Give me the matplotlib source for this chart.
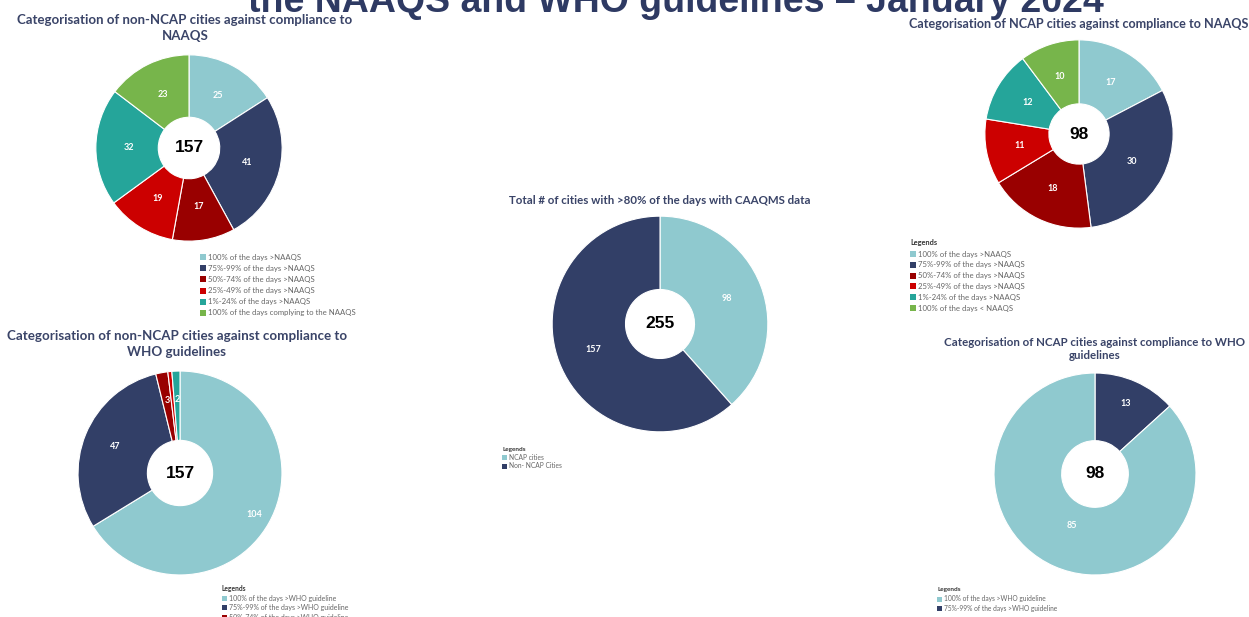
import matplotlib
matplotlib.use("Agg")
import matplotlib.pyplot as plt
from matplotlib.patches import Rectangle
import numpy as np

# --- data ---
naaqs_labels_non = ["100% of the days >NAAQS", "75%-99% of the days >NAAQS",
                    "50%-74% of the days >NAAQS", "25%-49% of the days >NAAQS",
                    "1%-24% of the days >NAAQS", "100% of the days complying to the NAAQS"]
naaqs_values_non = [25, 41, 17, 19, 32, 23]

naaqs_labels_ncap = ["100% of the days >NAAQS", "75%-99% of the days >NAAQS",
                     "50%-74% of the days >NAAQS", "25%-49% of the days >NAAQS",
                     "1%-24% of the days >NAAQS", "100% of the days < NAAQS"]
naaqs_values_ncap = [17, 30, 18, 11, 12, 10]

total_labels = ["NCAP cities", "Non- NCAP Cities"]
total_values = [98, 157]

who_labels_non = ["100% of the days >WHO guideline", "75%-99% of the days >WHO guideline",
                  "50%-74% of the days >WHO guideline"]
who_values_non = [104, 47, 3, 1, 2]

who_labels_ncap = ["100% of the days >WHO guideline", "75%-99% of the days >WHO guideline"]
# slice order as drawn clockwise from 12 o'clock: 75-99% first, then 100%
who_values_ncap = [13, 85]

# colours
LBLUE = "#8FC9CF"
NAVY = "#323F67"
DRED = "#990000"
RED = "#CC0000"
TEAL = "#25A59A"
GREEN = "#77B54B"
six_cols = [LBLUE, NAVY, DRED, RED, TEAL, GREEN]
who_cols = [LBLUE, NAVY, DRED, RED, TEAL]
TITLE_COL = "#3A4468"

W, H = 1249, 617
fig = plt.figure(figsize=(W / 100, H / 100), dpi=100)
fig.patch.set_facecolor("white")


def fx(x):
    return x / W


def fy(y):
    return 1 - y / H


def donut(cx, cy, r, values, colors, hole=0.33, lab_r=0.66, lab_size=6.5):
    ax = fig.add_axes([fx(cx - r), fy(cy + r), 2 * r / W, 2 * r / H])
    wedges, _ = ax.pie(values, colors=colors, startangle=90, counterclock=False,
                       radius=1, wedgeprops=dict(width=1 - hole, edgecolor="white", linewidth=0.8))
    if np.isscalar(lab_r):
        lab_r = [lab_r] * len(values)
    for w, v, lr in zip(wedges, values, lab_r):
        if v < 2:
            continue
        a = np.deg2rad((w.theta1 + w.theta2) / 2)
        ax.text(lr * np.cos(a), lr * np.sin(a), str(v), ha="center", va="center",
                color="white", fontsize=lab_size, fontweight="bold", family="Lato")
    ax.text(0, 0, str(sum(values)), ha="center", va="center", fontsize=12.5,
            fontweight="bold", family="Liberation Sans", color="black")
    ax.set_xlim(-1.02, 1.02)
    ax.set_ylim(-1.02, 1.02)
    ax.axis("off")
    return ax


def chart_title(x, y, s, size=8.2):
    fig.text(fx(x), fy(y), s, ha="center", va="center", fontsize=size, fontweight="bold",
             color=TITLE_COL, family="Lato", linespacing=1.3)


def legend(x, y0, dy, labels, colors, title_y=None, size=5.6, sq=6):
    if title_y is not None:
        fig.text(fx(x), fy(title_y), "Legends", ha="left", va="center", fontsize=size * 0.95,
                 fontweight="bold", color="#333333", family="Lato")
    for i, (lab, c) in enumerate(zip(labels, colors)):
        yc = y0 + i * dy
        fig.patches.append(Rectangle((fx(x), fy(yc + sq / 2)), sq / W, sq / H,
                                     transform=fig.transFigure, facecolor=c, edgecolor="none"))
        fig.text(fx(x + sq + 2), fy(yc), lab, ha="left", va="center", fontsize=size,
                 color="#666666", family="Lato")


# main slide title, cut off at the top
fig.text(fx(676), fy(12), "the NAAQS and WHO guidelines \u2013 January 2024", ha="center",
         va="baseline", fontsize=27, fontweight="bold", color="#2E3A63", family="Liberation Sans")

# top left: non-NCAP vs NAAQS
chart_title(185, 28, "Categorisation of non-NCAP cities against compliance to\nNAAQS", size=9.5)
donut(189, 148, 95, naaqs_values_non, six_cols, hole=0.33, lab_r=0.64)
legend(200, 257, 11.2, naaqs_labels_non, six_cols)

# top right: NCAP vs NAAQS
chart_title(1079, 24, "Categorisation of NCAP cities against compliance to NAAQS", size=9.05)
donut(1079, 134, 96, naaqs_values_ncap, six_cols, hole=0.32, lab_r=0.64)
legend(910, 254, 10.8, naaqs_labels_ncap, six_cols, title_y=243)

# centre: total
chart_title(660, 200, "Total # of cities with >80% of the days with CAAQMS data", size=8.3)
donut(660, 324, 110, total_values, [LBLUE, NAVY], hole=0.32, lab_r=0.66)
legend(502, 457, 9, total_labels, [LBLUE, NAVY], title_y=449, size=4.8, sq=5)

# bottom left: non-NCAP vs WHO
chart_title(177, 344, "Categorisation of non-NCAP cities against compliance to\nWHO guidelines", size=9.6)
donut(180, 473, 104, who_values_non, who_cols, hole=0.32, lab_r=[0.83, 0.69, 0.72, 0.72, 0.72])
legend(222, 598, 9.8, who_labels_non, who_cols[:3], title_y=588, size=5, sq=5)

# bottom right: NCAP vs WHO
chart_title(1095, 349, "Categorisation of NCAP cities against compliance to WHO\nguidelines", size=8.3)
donut(1095, 474, 103, who_values_ncap, [NAVY, LBLUE], hole=0.33, lab_r=[0.76, 0.56])
legend(937, 599, 9, who_labels_ncap, [LBLUE, NAVY], title_y=590, size=4.8, sq=5)

fig.savefig("out.png", dpi=100, facecolor="white")
